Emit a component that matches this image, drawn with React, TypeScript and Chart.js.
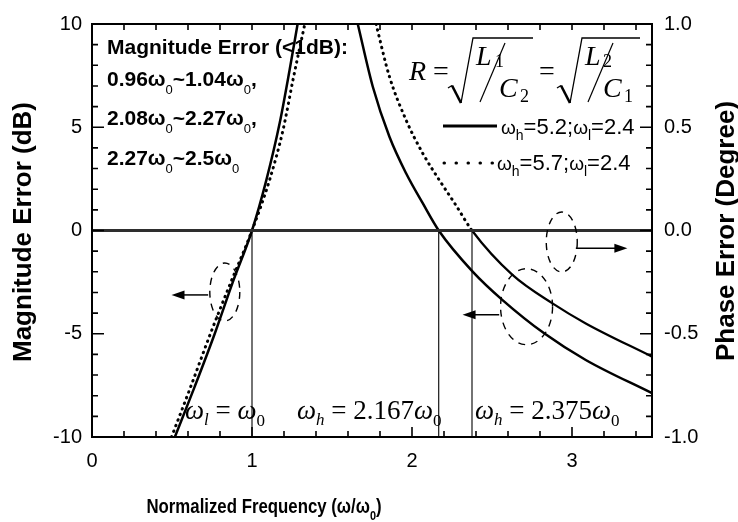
import React, { useEffect, useRef } from 'react';
import { Chart, registerables } from 'chart.js';

Chart.register(...registerables);

// ---- data ----
const solidLeftX = [0.518, 0.642, 0.767, 0.88, 1.0, 1.09, 1.173, 1.235, 1.285];
const solidLeftY = [-10, -7.56, -5.0, -2.5, 0, 2.45, 5.2, 7.77, 10];
const dottedLeftX = [0.497, 0.62, 0.74, 0.868, 1.0, 1.11, 1.194, 1.256, 1.33];
const dottedLeftY = [-10, -7.5, -5.0, -2.5, 0, 2.45, 4.87, 7.29, 10];
const solidRightX = [1.661, 1.755, 1.859, 1.963, 2.067, 2.167, 2.379, 2.566, 2.826, 3.086, 3.5];
const solidRightY = [10, 6.96, 4.54, 2.77, 1.32, 0, -1.99, -3.37, -4.98, -6.27, -7.88];
const dottedRightX = [1.775, 1.859, 1.963, 2.067, 2.17, 2.274, 2.375, 2.628, 2.878, 3.086, 3.5];
const dottedRightY = [10, 7.45, 5.35, 3.74, 2.45, 1.23, 0, -2.15, -3.53, -4.5, -6.11];
const phaseX = [0, 3.5];
const phaseY = [0, 0];
const markerX = [1.0, 2.167, 2.375];
const markerY = [-10, 0];

const xTickValues = [0, 1, 2, 3];
const yTickValues = [-10, -5, 0, 5, 10];
const y2TickValues = [-1, -0.5, 0, 0.5, 1];

const SANS = "'Liberation Sans', Arial, sans-serif";
const SERIF = "'Liberation Serif', 'Times New Roman', serif";

const pts = (xs: number[], ys: number[]) => xs.map((x, i) => ({ x, y: ys[i] }));

type Part = { t: string; font: string; dy?: number; dx?: number };

function measureParts(ctx: CanvasRenderingContext2D, parts: Part[]) {
  let w = 0;
  for (const p of parts) {
    ctx.font = p.font;
    w += (p.dx || 0) + ctx.measureText(p.t).width;
  }
  return w;
}

function drawParts(ctx: CanvasRenderingContext2D, x: number, y: number, parts: Part[]) {
  let cx = x;
  for (const p of parts) {
    ctx.font = p.font;
    cx += p.dx || 0;
    ctx.fillText(p.t, cx, y + (p.dy || 0));
    cx += ctx.measureText(p.t).width;
  }
  return cx - x;
}

function arrow(ctx: CanvasRenderingContext2D, x1: number, x2: number, y: number) {
  const dir = Math.sign(x2 - x1);
  ctx.lineWidth = 1.5;
  ctx.beginPath();
  ctx.moveTo(x1, y);
  ctx.lineTo(x2 - dir * 10, y);
  ctx.stroke();
  ctx.beginPath();
  ctx.moveTo(x2, y);
  ctx.lineTo(x2 - dir * 13, y - 4.5);
  ctx.lineTo(x2 - dir * 13, y + 4.5);
  ctx.closePath();
  ctx.fill();
}

function dashedEllipse(ctx: CanvasRenderingContext2D, cx: number, cy: number, rx: number, ry: number) {
  ctx.save();
  ctx.lineWidth = 1.4;
  ctx.setLineDash([7, 6]);
  ctx.beginPath();
  ctx.ellipse(cx, cy, rx, ry, 0, 0, Math.PI * 2);
  ctx.stroke();
  ctx.restore();
}

const decoPlugin = {
  id: 'deco',
  afterDatasetsDraw(chart: any) {
    const ctx: CanvasRenderingContext2D = chart.ctx;
    const { left, right, top, bottom } = chart.chartArea;
    const xs = chart.scales.x;
    const ys = chart.scales.y;
    const y2 = chart.scales.y2;
    ctx.save();
    ctx.strokeStyle = '#000';
    ctx.fillStyle = '#000';

    // frame
    ctx.lineWidth = 2;
    ctx.strokeRect(left, top, right - left, bottom - top);

    // inward ticks
    ctx.lineWidth = 1.6;
    ctx.beginPath();
    for (let i = 0; i <= 17; i++) {
      const px = xs.getPixelForValue(i * 0.2);
      const len = i % 5 === 0 ? 10 : 6;
      ctx.moveTo(px, bottom);
      ctx.lineTo(px, bottom - len);
      ctx.moveTo(px, top);
      ctx.lineTo(px, top + 6);
    }
    for (let v = -10; v <= 10; v++) {
      const py = ys.getPixelForValue(v);
      const len = v % 5 === 0 ? 12 : 6;
      ctx.moveTo(left, py);
      ctx.lineTo(left + len, py);
    }
    for (let k = -10; k <= 10; k++) {
      const py = y2.getPixelForValue(k / 10);
      const len = k % 5 === 0 ? 12 : 6;
      ctx.moveTo(right, py);
      ctx.lineTo(right - len, py);
    }
    ctx.stroke();

    // dashed ellipses and arrows
    dashedEllipse(ctx, xs.getPixelForValue(0.83), ys.getPixelForValue(-2.98), 15, 29);
    dashedEllipse(ctx, xs.getPixelForValue(2.716), ys.getPixelForValue(-3.69), 26, 38);
    dashedEllipse(ctx, xs.getPixelForValue(2.936), ys.getPixelForValue(-0.557), 15.5, 30);
    arrow(ctx, xs.getPixelForValue(0.726), xs.getPixelForValue(0.497), ys.getPixelForValue(-3.12));
    arrow(ctx, xs.getPixelForValue(2.545), xs.getPixelForValue(2.316), ys.getPixelForValue(-4.08));
    arrow(ctx, xs.getPixelForValue(3.024), xs.getPixelForValue(3.346), ys.getPixelForValue(-0.86));

    ctx.textAlign = 'left';
    ctx.textBaseline = 'alphabetic';

    // top-left text block
    const B21 = `bold 21px ${SANS}`;
    const S13 = `13px ${SANS}`;
    drawParts(ctx, 107, 54, [{ t: 'Magnitude Error (<1dB):', font: B21 }]);
    drawParts(ctx, 107, 86, [
      { t: '0.96ω', font: B21 }, { t: '0', font: S13, dy: 8 },
      { t: '~1.04ω', font: B21 }, { t: '0', font: S13, dy: 8 }, { t: ',', font: B21 },
    ]);
    drawParts(ctx, 107, 125, [
      { t: '2.08ω', font: B21 }, { t: '0', font: S13, dy: 8 },
      { t: '~2.27ω', font: B21 }, { t: '0', font: S13, dy: 8 }, { t: ',', font: B21 },
    ]);
    drawParts(ctx, 107, 165, [
      { t: '2.27ω', font: B21 }, { t: '0', font: S13, dy: 8 },
      { t: '~2.5ω', font: B21 }, { t: '0', font: S13, dy: 8 },
    ]);

    // formula R = sqrt(L1/C2) = sqrt(L2/C1)
    const IT28 = `italic 28px ${SERIF}`;
    const RM28 = `28px ${SERIF}`;
    const RM18 = `18px ${SERIF}`;
    ctx.font = IT28; ctx.fillText('R', 409, 80);
    ctx.font = RM28; ctx.fillText('=', 433, 80);
    const radical = (x0: number, x1: number) => {
      ctx.lineCap = 'butt';
      ctx.lineWidth = 1.3;
      ctx.beginPath();
      ctx.moveTo(x0, 88); ctx.lineTo(x0 + 4, 85.5);
      ctx.stroke();
      ctx.lineWidth = 2.6;
      ctx.beginPath();
      ctx.moveTo(x0 + 4, 85.5); ctx.lineTo(x0 + 13, 103);
      ctx.stroke();
      ctx.lineWidth = 1.3;
      ctx.beginPath();
      ctx.moveTo(x0 + 13, 103); ctx.lineTo(x0 + 25, 38); ctx.lineTo(x1, 38);
      ctx.stroke();
    };
    const slash = (xa: number) => {
      ctx.lineWidth = 1.2;
      ctx.beginPath();
      ctx.moveTo(xa, 102); ctx.lineTo(xa + 25, 43);
      ctx.stroke();
    };
    radical(448, 533);
    ctx.font = IT28; ctx.fillText('L', 476, 65);
    ctx.font = RM18; ctx.fillText('1', 495, 67);
    slash(480);
    ctx.font = IT28; ctx.fillText('C', 499, 97);
    ctx.font = RM18; ctx.fillText('2', 520, 102);
    ctx.font = RM28; ctx.fillText('=', 539, 80);
    radical(557, 640);
    ctx.font = IT28; ctx.fillText('L', 585, 65);
    ctx.font = RM18; ctx.fillText('2', 603, 67);
    slash(588);
    ctx.font = IT28; ctx.fillText('C', 603, 97);
    ctx.font = RM18; ctx.fillText('1', 624, 102);

    // legend
    ctx.lineWidth = 3;
    ctx.beginPath();
    ctx.moveTo(443, 126); ctx.lineTo(497, 126);
    ctx.stroke();
    ctx.save();
    ctx.lineCap = 'round';
    ctx.lineWidth = 3;
    ctx.setLineDash([0.5, 11.5]);
    ctx.beginPath();
    ctx.moveTo(444, 163); ctx.lineTo(496, 163);
    ctx.stroke();
    ctx.restore();
    const L19 = `19px ${SANS}`;
    const L14 = `14px ${SANS}`;
    const L22 = `22px ${SANS}`;
    drawParts(ctx, 501, 134, [
      { t: 'ω', font: L19 }, { t: 'h', font: L14, dy: 6 }, { t: '=5.2;', font: L22 },
      { t: 'ω', font: L19 }, { t: 'l', font: L14, dy: 6 }, { t: '=2.4', font: L22 },
    ]);
    drawParts(ctx, 497, 170, [
      { t: 'ω', font: L19 }, { t: 'h', font: L14, dy: 6 }, { t: '=5.7;', font: L22 },
      { t: 'ω', font: L19 }, { t: 'l', font: L14, dy: 6 }, { t: '=2.4', font: L22 },
    ]);

    // bottom labels
    const IT27 = `italic 27px ${SERIF}`;
    const IT17 = `italic 17px ${SERIF}`;
    const RM27 = `27px ${SERIF}`;
    const RM17 = `17px ${SERIF}`;
    drawParts(ctx, 185, 419, [
      { t: 'ω', font: IT27 }, { t: 'l', font: IT17, dy: 6 }, { t: ' = ', font: RM27 },
      { t: 'ω', font: IT27 }, { t: '0', font: RM17, dy: 7 },
    ]);
    drawParts(ctx, 297, 419, [
      { t: 'ω', font: IT27 }, { t: 'h', font: IT17, dy: 6 }, { t: ' = 2.167', font: RM27 },
      { t: 'ω', font: IT27 }, { t: '0', font: RM17, dy: 7 },
    ]);
    drawParts(ctx, 475, 419, [
      { t: 'ω', font: IT27 }, { t: 'h', font: IT17, dy: 6 }, { t: ' = 2.375', font: RM27 },
      { t: 'ω', font: IT27 }, { t: '0', font: RM17, dy: 7 },
    ]);

    // axis titles
    const B20 = `bold 20px ${SANS}`;
    const xParts: Part[] = [
      { t: 'Normalized Frequency (ω/ω', font: B20 },
      { t: '0', font: `bold 13px ${SANS}`, dy: 7 },
      { t: ')', font: B20 },
    ];
    const sx = 0.84;
    const w = measureParts(ctx, xParts) * sx;
    ctx.save();
    ctx.translate(264 - w / 2, 513);
    ctx.scale(sx, 1);
    drawParts(ctx, 0, 0, xParts);
    ctx.restore();

    ctx.textAlign = 'center';
    ctx.textBaseline = 'middle';
    ctx.font = `bold 26px ${SANS}`;
    ctx.save();
    ctx.translate(24, 232);
    ctx.rotate(-Math.PI / 2);
    ctx.fillText('Magnitude Error (dB)', 0, 0);
    ctx.restore();
    ctx.save();
    ctx.translate(727, 231);
    ctx.rotate(-Math.PI / 2);
    ctx.fillText('Phase Error (Degree)', 0, 0);
    ctx.restore();

    ctx.restore();
  },
};

export default function App() {
  const ref = useRef<HTMLCanvasElement | null>(null);

  useEffect(() => {
    document.body.style.margin = '0';
    const canvas = ref.current;
    if (!canvas) return;
    const tickFont = { family: SANS, size: 20 };
    const hiddenGrid = { display: false, drawTicks: false };
    const dotted = [0.5, 5.5];
    const chart = new Chart(canvas, {
      type: 'line',
      data: {
        datasets: [
          {
            data: pts(phaseX, phaseY),
            yAxisID: 'y2',
            borderColor: '#2e2e2e',
            borderWidth: 2.8,
            pointRadius: 0,
          },
          ...markerX.map((mx) => ({
            data: pts([mx, mx], markerY),
            yAxisID: 'y',
            borderColor: '#000',
            borderWidth: 1.1,
            pointRadius: 0,
          })),
          {
            data: pts(solidLeftX, solidLeftY),
            yAxisID: 'y',
            borderColor: '#000',
            borderWidth: 2.5,
            pointRadius: 0,
            cubicInterpolationMode: 'monotone',
          },
          {
            data: pts(solidRightX, solidRightY),
            yAxisID: 'y',
            borderColor: '#000',
            borderWidth: 2.5,
            pointRadius: 0,
            cubicInterpolationMode: 'monotone',
          },
          {
            data: pts(dottedLeftX, dottedLeftY),
            yAxisID: 'y',
            borderColor: '#000',
            borderWidth: 3,
            borderDash: dotted,
            borderCapStyle: 'round',
            pointRadius: 0,
            cubicInterpolationMode: 'monotone',
          },
          {
            data: pts(dottedRightX, dottedRightY),
            yAxisID: 'y',
            borderColor: '#000',
            borderWidth: 3,
            borderDash: dotted,
            borderCapStyle: 'round',
            pointRadius: 0,
            cubicInterpolationMode: 'monotone',
            segment: {
              borderDash: (c: any) => (c.p1.parsed.y < 0 ? [] : undefined),
              borderWidth: (c: any) => (c.p1.parsed.y < 0 ? 2.2 : undefined),
              borderCapStyle: (c: any) => (c.p1.parsed.y < 0 ? 'butt' : undefined),
            },
          },
        ] as any,
      },
      options: {
        responsive: false,
        animation: false,
        devicePixelRatio: 1,
        layout: { padding: { top: 24, left: 0, right: 0, bottom: 0 } },
        plugins: { legend: { display: false }, tooltip: { enabled: false } },
        scales: {
          x: {
            type: 'linear',
            position: 'bottom',
            min: 0,
            max: 3.5,
            grid: hiddenGrid,
            border: { display: false },
            ticks: { font: tickFont, color: '#000', padding: 12, maxRotation: 0, autoSkip: false },
            afterBuildTicks: (s: any) => { s.ticks = xTickValues.map((v) => ({ value: v })); },
            afterFit: (s: any) => { s.height = 85; },
          },
          y: {
            type: 'linear',
            position: 'left',
            min: -10,
            max: 10,
            grid: hiddenGrid,
            border: { display: false },
            ticks: { font: tickFont, color: '#000', padding: 10, callback: (v: any) => String(v) },
            afterBuildTicks: (s: any) => { s.ticks = yTickValues.map((v) => ({ value: v })); },
            afterFit: (s: any) => { s.width = 92; },
          },
          y2: {
            type: 'linear',
            position: 'right',
            min: -1,
            max: 1,
            grid: hiddenGrid,
            border: { display: false },
            ticks: { font: tickFont, color: '#000', padding: 12, callback: (v: any) => Number(v).toFixed(1) },
            afterBuildTicks: (s: any) => { s.ticks = y2TickValues.map((v) => ({ value: v })); },
            afterFit: (s: any) => { s.width = 86; },
          },
        },
      } as any,
      plugins: [decoPlugin],
    });
    return () => chart.destroy();
  }, []);

  return (
    <div style={{ width: 738, height: 522, background: '#fff' }}>
      <canvas ref={ref} width={738} height={522} style={{ display: 'block' }} />
    </div>
  );
}
